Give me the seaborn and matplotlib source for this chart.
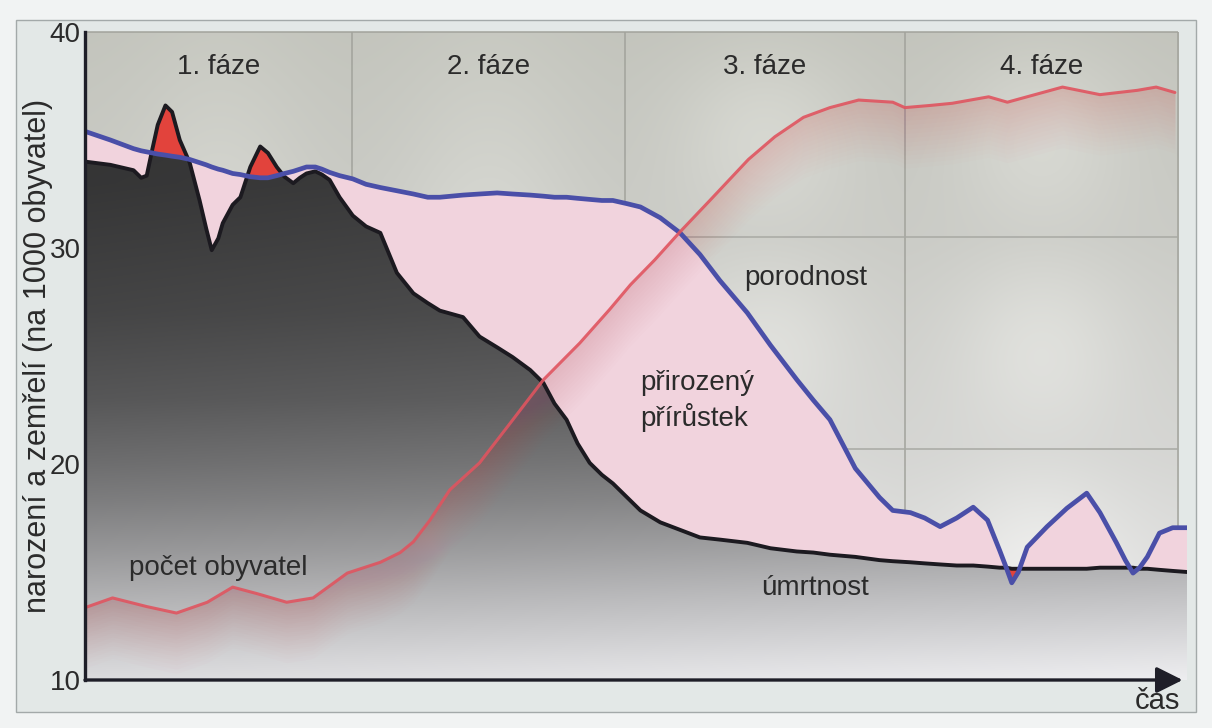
import matplotlib

matplotlib.use("Agg")
import matplotlib.pyplot as plt
import numpy as np
import seaborn as sns
from matplotlib.patches import Polygon, Rectangle

# time axis (no units, 0-100), shared by the birth and death rate curves
t = [0, 2.3, 4.4, 5.1, 5.6, 6.1, 6.6, 7.3, 7.9, 8.6, 9.5, 10.4, 11.0, 11.5, 12.1, 12.5,
     13.4, 14.1, 15.0, 15.9, 16.6, 17.4, 18.1, 18.9, 19.5, 20.1, 20.9, 21.5, 22.2, 23.1,
     24.3, 25.5, 26.8, 28.3, 29.8, 31.1, 32.2, 34.3, 35.8, 37.4, 38.8, 40.4, 41.6, 42.6,
     43.7, 44.7, 45.8, 46.9, 47.9, 49.2, 50.4, 52.2, 54.0, 55.8, 57.6, 60.1, 62.2, 64.6,
     66.1, 67.6, 69.9, 72.1, 73.3, 74.9, 76.2, 77.6, 79.1, 80.6, 81.9, 83.0, 83.6, 84.1,
     84.7, 85.5, 87.3, 89.1, 90.9, 92.1, 93.6, 94.4, 95.1, 95.7, 96.4, 97.5, 98.7, 100]

# porodnost (births per 1000)
birth_rate = [35.4, 35.0, 34.6, 34.5, 34.45, 34.4, 34.35, 34.3, 34.25, 34.2, 34.1, 33.95,
              33.85, 33.75, 33.65, 33.6, 33.45, 33.4, 33.3, 33.25, 33.25, 33.35, 33.45,
              33.55, 33.65, 33.75, 33.75, 33.65, 33.5, 33.35, 33.2, 32.95, 32.8, 32.65,
              32.5, 32.35, 32.35, 32.45, 32.5, 32.55, 32.5, 32.45, 32.4, 32.35, 32.35, 32.3,
              32.25, 32.2, 32.2, 32.05, 31.9, 31.4, 30.7, 29.7, 28.5, 27.0, 25.5, 23.9,
              22.95, 22.05, 19.8, 18.45, 17.85, 17.75, 17.5, 17.1, 17.5, 18.0, 17.4, 16.0,
              15.2, 14.5, 15.0, 16.15, 17.1, 17.95, 18.65, 17.75, 16.35, 15.55, 14.95, 15.2,
              15.7, 16.8, 17.05, 17.05]

# úmrtnost (deaths per 1000)
death_rate = [34.0, 33.85, 33.6, 33.25, 33.35, 34.55, 35.7, 36.6, 36.3, 35.0, 33.95, 32.2,
              30.9, 29.9, 30.45, 31.15, 32.0, 32.35, 33.75, 34.7, 34.4, 33.75, 33.3, 33.0,
              33.25, 33.45, 33.55, 33.4, 33.15, 32.35, 31.5, 31.0, 30.7, 28.85, 27.9, 27.45,
              27.1, 26.8, 25.9, 25.4, 24.95, 24.35, 23.75, 22.8, 22.05, 20.95, 20.05, 19.5,
              19.1, 18.45, 17.85, 17.3, 16.95, 16.6, 16.5, 16.35, 16.1, 15.95, 15.9, 15.8,
              15.7, 15.55, 15.5, 15.45, 15.4, 15.35, 15.3, 15.3, 15.25, 15.2, 15.2, 15.15,
              15.15, 15.15, 15.15, 15.15, 15.15, 15.2, 15.2, 15.2, 15.2, 15.15, 15.15, 15.1,
              15.05, 15.0]

# počet obyvatel (population, same vertical scale, no units)
pop_t = [0, 2.5, 5.6, 8.3, 11.1, 13.4, 15.6, 18.3, 20.7, 23.8, 26.8, 28.6, 29.8, 31.3,
         33.1, 35.8, 38.6, 41.6, 44.9, 47.6, 49.5, 51.7, 54.0, 56.7, 60.2, 62.6, 65.2,
         67.6, 70.2, 73.3, 74.4, 76.7, 78.7, 82.0, 83.7, 86.2, 88.7, 92.1, 95.5, 97.2, 98.9]
population = [13.35, 13.8, 13.4, 13.1, 13.6, 14.3, 14.0, 13.6, 13.8, 14.95, 15.45, 15.9,
              16.4, 17.4, 18.8, 20.05, 21.9, 23.9, 25.6, 27.15, 28.3, 29.45, 30.75, 32.2,
              34.1, 35.15, 36.05, 36.5, 36.85, 36.75, 36.5, 36.6, 36.7, 37.0, 36.75, 37.1,
              37.45, 37.1, 37.3, 37.45, 37.2]

phase_labels = ["1. fáze", "2. fáze", "3. fáze", "4. fáze"]
phase_edges = [0, 24.2, 49.0, 74.4, 99.2]
row_edges = [20.7, 30.5]  # panel dividers drawn in phases 3 and 4
y_ticks = [10, 20, 30, 40]

TEXT = "#2b2b2b"
BLUE = "#4a4fa8"
BLACK = "#1c1a20"
RED = "#e0545f"
PINK = "#f1d3dd"
PEAK_RED = "#e2433c"

sns.set_theme(style="white")
plt.rcParams["font.family"] = ["Liberation Sans", "DejaVu Sans"]

t = np.array(t)
birth_rate = np.array(birth_rate)
death_rate = np.array(death_rate)
pop_t = np.array(pop_t)
population = np.array(population)

fig = plt.figure(figsize=(12.12, 7.28), dpi=100, facecolor="#f1f3f3")
fig.patches.append(Rectangle((16 / 1212, 1 - 712 / 728), 1180 / 1212, 692 / 728,
                             transform=fig.transFigure, facecolor="#e3e8e7",
                             edgecolor="#a3a9a9", lw=1, zorder=-5))
ax = fig.add_axes([85 / 1212, 1 - 680 / 728, 1102 / 1212, 648 / 728])
ax.set_facecolor("none")
ax.set_xlim(0, 100)
ax.set_ylim(10, 40)

# glossy grey panels behind the chart
ny, nx = 300, 600
yy = np.linspace(10, 40, ny)[:, None]
xx = np.linspace(phase_edges[0], phase_edges[-1], nx)[None, :]
base = np.interp(yy, [10, 15, 20, 30, 40], [0.91, 0.875, 0.84, 0.8, 0.77]) + 0 * xx
glow = np.zeros_like(base)
for i in range(4):
    x0, x1 = phase_edges[i], phase_edges[i + 1]
    rows = [10, 40] if i < 2 else [10, row_edges[0], row_edges[1], 40]
    for y0, y1 in zip(rows[:-1], rows[1:]):
        cx, cy = (x0 + x1) / 2, (y0 + y1) / 2
        g = np.exp(-((xx - cx) / (0.32 * (x1 - x0))) ** 2 - ((yy - cy) / (0.45 * (y1 - y0))) ** 2)
        glow = np.maximum(glow, g)
val = base + 0.06 * glow
tint = (yy - 10) / 30
bg = np.dstack([val - 0.005 * tint, val, val - 0.03 * tint]).clip(0, 1)
ax.imshow(bg, extent=[phase_edges[0], phase_edges[-1], 10, 40], origin="lower",
          aspect="auto", zorder=0, interpolation="bilinear")

for xe in phase_edges[1:]:
    ax.vlines(xe, 10, 40, color="#a2a39c", lw=1.1, zorder=0.5)
ax.hlines(40, phase_edges[0], phase_edges[-1], color="#a2a39c", lw=1.1, zorder=0.5, clip_on=False)
ax.hlines(row_edges, phase_edges[2], phase_edges[-1], color="#a8a9a3", lw=1.1, zorder=0.5)

# dark area under the death rate, shaded from black to light grey
dy = np.linspace(10, 40, 400)[:, None]
dx = np.linspace(0, 100, 200)[None, :]
shade = np.interp(dy, [10, 11, 13.7, 16, 18.3, 20, 23, 27, 33, 40],
                  [0.86, 0.82, 0.7, 0.59, 0.49, 0.43, 0.34, 0.27, 0.21, 0.19]) + 0.07 * dx / 100
dark = np.dstack([shade, shade, shade * 1.01]).clip(0, 1)
im = ax.imshow(dark, extent=[0, 100, 10, 40], origin="lower", aspect="auto", zorder=1,
               interpolation="bilinear")
clip = Polygon(np.column_stack([np.r_[t, 100, 0], np.r_[death_rate, 10, 10]]),
               closed=True, facecolor="none", edgecolor="none", transform=ax.transData)
ax.add_patch(clip)
im.set_clip_path(clip)

# natural increase (pink) and the spots where deaths exceed births (red)
ax.fill_between(t, death_rate, birth_rate, where=birth_rate >= death_rate,
                interpolate=True, color=PINK, lw=0, zorder=2)
ax.fill_between(t, birth_rate, death_rate, where=death_rate > birth_rate,
                interpolate=True, color=PEAK_RED, lw=0, zorder=2)

# soft reddish haze under the population curve
for k in range(1, 15):
    ax.fill_between(pop_t, population - 0.2 * k, population, color=RED, alpha=0.014,
                    lw=0, zorder=2.5)

sns.lineplot(x=t, y=death_rate, ax=ax, color=BLACK, lw=2.8, zorder=3)
sns.lineplot(x=t, y=birth_rate, ax=ax, color=BLUE, lw=3.4, zorder=4)
sns.lineplot(x=pop_t, y=population, ax=ax, color=RED, lw=2.2, alpha=0.9, zorder=5)
for line in ax.lines:
    line.set_solid_joinstyle("round")
    line.set_solid_capstyle("round")

# axes
sns.despine(ax=ax, top=True, right=True, bottom=True)
ax.spines["left"].set_color("#1e1e28")
ax.spines["left"].set_linewidth(2.4)
ax.spines["left"].set_zorder(6)
ax.annotate("", xy=(99.6, 10), xytext=(0, 10), annotation_clip=False,
            arrowprops=dict(arrowstyle="-|>,head_length=0.8,head_width=0.4",
                            color="#1e1e28", lw=2.4, mutation_scale=20,
                            shrinkA=0, shrinkB=0), zorder=6)
ax.set_xticks([])
ax.set_yticks(y_ticks)
ax.set_yticklabels([str(v) for v in y_ticks])
ax.tick_params(axis="y", length=0, pad=3, labelsize=20, labelcolor=TEXT)
ax.set_ylabel("narození a zemřelí (na 1000 obyvatel)", fontsize=22, color=TEXT, labelpad=-2)

# labels
for i, label in enumerate(phase_labels):
    ax.text((phase_edges[i] + phase_edges[i + 1]) / 2, 38.4, label, ha="center",
            va="center", fontsize=20, color=TEXT, zorder=7)
ax.text(65.4, 28.6, "porodnost", ha="center", va="center", fontsize=20, color=TEXT, zorder=7)
ax.text(50.4, 22.9, "přirozený\npřírůstek", ha="left", va="center", fontsize=20,
        color=TEXT, linespacing=1.3, zorder=7)
ax.text(66.2, 14.25, "úmrtnost", ha="center", va="center", fontsize=20, color=TEXT, zorder=7)
ax.text(12.1, 15.2, "počet obyvatel", ha="center", va="center", fontsize=20, color=TEXT, zorder=7)
ax.text(97.3, 9.05, "čas", ha="center", va="center", fontsize=21, color=TEXT, clip_on=False,
        zorder=7)

fig.savefig("out.png", dpi=100, facecolor=fig.get_facecolor())
